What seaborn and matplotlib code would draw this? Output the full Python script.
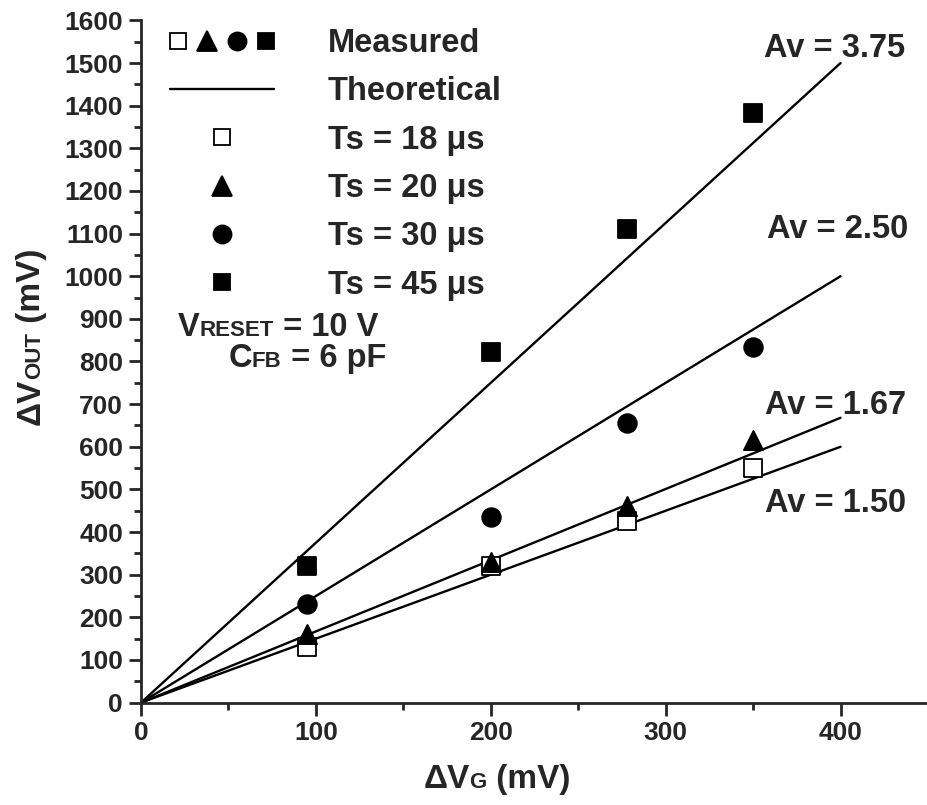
# gain plot: measured dVout vs dVg against theoretical gain lines
import numpy as np
import pandas as pd
import matplotlib
matplotlib.use("Agg")
import matplotlib.pyplot as plt
import matplotlib.transforms as mtransforms
from matplotlib.lines import Line2D
from matplotlib.legend_handler import HandlerTuple
import seaborn as sns

# ---- data ----
vg = [95, 200, 278, 350]
vout_18 = [130, 320, 425, 550]
vout_20 = [160, 330, 460, 615]
vout_30 = [232, 435, 655, 833]
vout_45 = [320, 822, 1110, 1382]
series_labels = ["Ts = 18 μs", "Ts = 20 μs", "Ts = 30 μs", "Ts = 45 μs"]

gains = [1.50, 1.67, 2.50, 3.75]
gain_labels = ["Av = 1.50", "Av = 1.67", "Av = 2.50", "Av = 3.75"]
theory_x = [0, 400]

# ---- style ----
sns.set_style("ticks")
plt.rcParams["font.family"] = ["Liberation Sans", "DejaVu Sans"]
plt.rcParams["font.weight"] = "bold"
plt.rcParams["axes.linewidth"] = 2.0

FS = 23.5
LABEL_FS = 24
TICK_FS = 19
SUB_FS = 16

fig = plt.figure(figsize=(9.28, 8.05), dpi=100)
ax = fig.add_axes([0.152, 0.1272, 0.848, 0.8475])

# theoretical lines
theory = pd.DataFrame(
    [(x, g * x, lab) for g, lab in zip(gains, gain_labels) for x in theory_x],
    columns=["vg", "vout", "gain"],
)
for lab in gain_labels:
    sns.lineplot(data=theory[theory["gain"] == lab], x="vg", y="vout",
                 color="black", linewidth=1.7, ax=ax, legend=False)

# measured points
styles = [
    dict(marker="s", facecolor="white", s=150),
    dict(marker="^", facecolor="black", s=190),
    dict(marker="o", facecolor="black", s=180),
    dict(marker="s", facecolor="black", s=170),
]
for vals, st in zip([vout_18, vout_20, vout_30, vout_45], styles):
    sns.scatterplot(x=vg, y=vals, marker=st["marker"], s=st["s"],
                    facecolor=st["facecolor"], edgecolor="black",
                    linewidth=1.3, ax=ax, legend=False, zorder=3)

# gain annotations
gain_pos = [(357, 447), (357, 677), (358, 1089), (356, 1513)]
for (x, y), lab in zip(gain_pos, gain_labels):
    ax.text(x, y, lab, fontsize=FS, ha="left", va="baseline")

# axes
ax.set_xlim(0, 450)
ax.set_ylim(0, 1600)
ax.set_xticks(np.arange(0, 401, 100))
ax.set_xticks(np.arange(0, 451, 50), minor=True)
ax.set_yticks(np.arange(0, 1601, 100))
ax.set_yticks(np.arange(0, 1601, 50), minor=True)
ax.tick_params(which="major", length=9, width=2, labelsize=TICK_FS, direction="out", pad=4)
ax.tick_params(which="minor", length=5, width=2, direction="out")
ax.set_xlabel("")
ax.set_ylabel("")
sns.despine(ax=ax)


# text with small-caps style subscripts sitting on the baseline
def rich_text(x, y, pieces, transform, rotation=0):
    renderer = fig.canvas.get_renderer()
    trans = transform
    for s, size in pieces:
        t = fig.text(x, y, s, fontsize=size, rotation=rotation,
                     rotation_mode="anchor", ha="left", va="baseline",
                     transform=trans)
        bb = t.get_window_extent(renderer)
        if rotation == 0:
            trans = mtransforms.offset_copy(trans, fig=fig, x=bb.width, y=0, units="dots")
        else:
            trans = mtransforms.offset_copy(trans, fig=fig, x=0, y=bb.height, units="dots")


rich_text(0.456, 0.021, [("ΔV", LABEL_FS), ("G", SUB_FS), (" (mV)", LABEL_FS)], fig.transFigure)
rich_text(0.043, 0.472, [("ΔV", LABEL_FS), ("OUT", SUB_FS), (" (mV)", LABEL_FS)],
          fig.transFigure, rotation=90)
rich_text(21, 860, [("V", FS), ("RESET", SUB_FS), (" = 10 V", FS)], ax.transData)
rich_text(50, 787, [("C", FS), ("FB", SUB_FS), (" = 6 pF", FS)], ax.transData)

# legend
mk = dict(linestyle="none", markeredgecolor="black", markeredgewidth=1.3)
h18 = Line2D([], [], marker="s", markersize=12, markerfacecolor="white", **mk)
h20 = Line2D([], [], marker="^", markersize=14, markerfacecolor="black", **mk)
h30 = Line2D([], [], marker="o", markersize=13, markerfacecolor="black", **mk)
h45 = Line2D([], [], marker="s", markersize=12, markerfacecolor="black", **mk)
h_line = Line2D([], [], color="black", linewidth=1.7)

handles = [(h18, h20, h30, h45), h_line, h18, h20, h30, h45]
labels = ["Measured", "Theoretical"] + series_labels
ax.legend(handles, labels, loc="upper left", bbox_to_anchor=(0.183, 0.965),
          bbox_transform=fig.transFigure, frameon=False, fontsize=FS,
          handler_map={tuple: HandlerTuple(ndivide=None, pad=0.4)},
          handlelength=3.2, handletextpad=1.65, labelspacing=0.53,
          borderpad=0, borderaxespad=0)

fig.savefig("out.png", dpi=100)
